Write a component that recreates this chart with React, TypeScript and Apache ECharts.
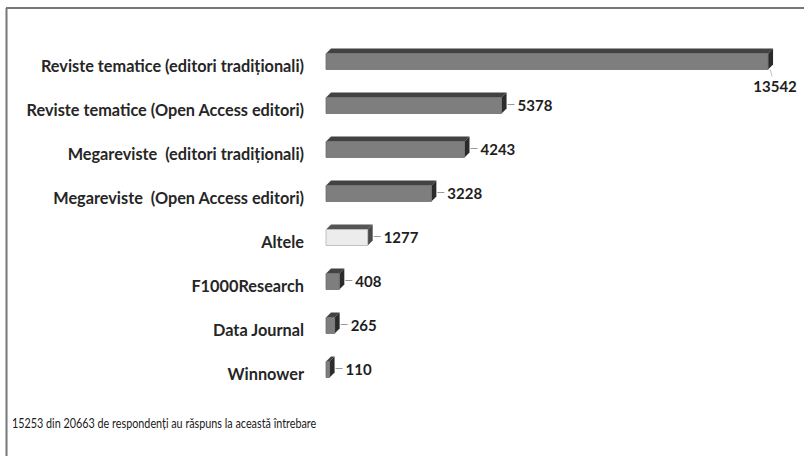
import React, { useEffect, useRef } from "react";
import * as echarts from "echarts";

const categories = [
  "Reviste tematice (editori tradiționali)",
  "Reviste tematice (Open Access editori)",
  "Megareviste  (editori tradiționali)",
  "Megareviste  (Open Access editori)",
  "Altele",
  "F1000Research",
  "Data Journal",
  "Winnower",
];
const values = [13542, 5378, 4243, 3228, 1277, 408, 265, 110];
const highlightCategory = "Altele";
const footnote = "15253 din 20663 de respondenți au răspuns la această întrebare";

const FONT = "Lato, 'Noto Sans', sans-serif";

export default function App() {
  const ref = useRef<HTMLDivElement>(null);
  useEffect(() => {
    if (!ref.current) return;
    const chart = echarts.init(ref.current, undefined, { renderer: "svg" });
    const data = values.map((v, i) => [v, i]);
    const option: any = {
      animation: false,
      backgroundColor: "#ffffff",
      grid: { left: 326, top: 43, height: 352, right: 21, containLabel: false },
      xAxis: {
        type: "value",
        min: 0,
        max: 14000,
        show: false,
      },
      yAxis: {
        type: "category",
        data: categories,
        inverse: true,
        axisLine: { show: false },
        axisTick: { show: false },
        splitLine: { show: false },
        axisLabel: {
          margin: 22,
          color: "#262626",
          fontFamily: FONT,
          fontWeight: "bold",
          fontSize: 16.3,
        },
      },
      series: [
        {
          type: "custom",
          encode: { x: 0, y: 1 },
          data,
          renderItem: (params: any, api: any) => {
            const v = api.value(0);
            const idx = api.value(1);
            const start = api.coord([0, idx]);
            const end = api.coord([v, idx]);
            const c = start[1] + 1.5;
            const top = c - 13;
            const bot = c + 3;
            const d = 5;
            const x0 = start[0];
            const x1 = end[0];
            const light = categories[idx] === highlightCategory;
            const front = light ? "#ececec" : "#7e7e7e";
            const frontStroke = light ? "#b5b5b5" : "#6e6e6e";
            const topCol = light ? "#555555" : "#424242";
            const side = light ? "#4a4a4a" : "#2b2b2b";
            const children: any[] = [
              {
                type: "polygon",
                shape: { points: [[x0, top], [x0 + d, top - d], [x1 + d, top - d], [x1, top]] },
                style: { fill: topCol },
              },
              {
                type: "polygon",
                shape: { points: [[x1, top], [x1 + d, top - d], [x1 + d, bot - d], [x1, bot]] },
                style: { fill: side },
              },
              {
                type: "rect",
                shape: { x: x0, y: top, width: Math.max(x1 - x0, 1), height: bot - top },
                style: { fill: front, stroke: frontStroke, lineWidth: 0.8 },
              },
            ];
            const label = String(v);
            const W = api.getWidth();
            if (x1 + d + 16 + 45 > W) {
              children.push({
                type: "line",
                shape: { x1: x1 + 2, y1: bot, x2: x1 + 4, y2: bot + 7 },
                style: { stroke: "#c4c4c4", lineWidth: 1 },
              });
              children.push({
                type: "text",
                style: {
                  x: x1 + 7,
                  y: bot + 16,
                  text: label,
                  align: "center",
                  verticalAlign: "middle",
                  fill: "#1e1e1e",
                  font: `bold 15px ${FONT}`,
                },
              });
            } else {
              const ly = c - 6;
              children.push({
                type: "line",
                shape: { x1: x1 + d + 1, y1: ly, x2: x1 + d + 8, y2: ly },
                style: { stroke: "#999999", lineWidth: 1 },
              });
              children.push({
                type: "text",
                style: {
                  x: x1 + d + 11,
                  y: ly,
                  text: label,
                  align: "left",
                  verticalAlign: "middle",
                  fill: "#1e1e1e",
                  font: `bold 15px ${FONT}`,
                },
              });
            }
            return { type: "group", children };
          },
        },
      ],
      graphic: [
        {
          type: "line",
          shape: { x1: 6, y1: 8, x2: 804, y2: 8 },
          style: { stroke: "#4a4a4a", lineWidth: 1.5 },
        },
        {
          type: "line",
          shape: { x1: 6.5, y1: 8, x2: 6.5, y2: 456 },
          style: { stroke: "#777777", lineWidth: 2 },
        },
        {
          type: "text",
          x: 12,
          y: 423,
          scaleX: 0.8,
          style: {
            text: footnote,
            fill: "#1a1a1a",
            font: `13.5px ${FONT}`,
            verticalAlign: "middle",
          },
        },
      ],
    };
    chart.setOption(option);
    return () => chart.dispose();
  }, []);
  return (
    <div
      ref={ref}
      style={{ position: "absolute", left: 0, top: 0, width: 804, height: 456 }}
    />
  );
}
